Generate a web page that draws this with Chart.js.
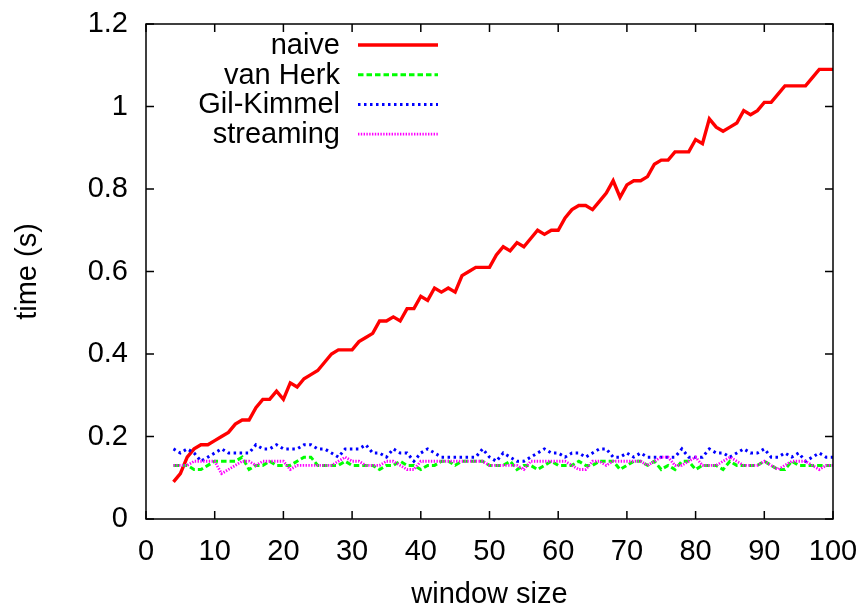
<!DOCTYPE html>
<html>
<head>
<meta charset="utf-8">
<script src="https://cdn.jsdelivr.net/npm/chart.js@4.4.1/dist/chart.umd.min.js"></script>
<style>
  html, body { margin: 0; padding: 0; background: #fff; }
  #wrap { width: 866px; height: 609px; }
</style>
</head>
<body>
<div id="wrap"><canvas id="chart" width="866" height="609"></canvas></div>
<script>
// window sizes on the x axis, timings in seconds per method
const windowSizes = [4, 5, 6, 7, 8, 9,
  10, 11, 12, 13, 14, 15, 16, 17, 18, 19,
  20, 21, 22, 23, 24, 25, 26, 27, 28, 29,
  30, 31, 32, 33, 34, 35, 36, 37, 38, 39,
  40, 41, 42, 43, 44, 45, 46, 47, 48, 49,
  50, 51, 52, 53, 54, 55, 56, 57, 58, 59,
  60, 61, 62, 63, 64, 65, 66, 67, 68, 69,
  70, 71, 72, 73, 74, 75, 76, 77, 78, 79,
  80, 81, 82, 83, 84, 85, 86, 87, 88, 89,
  90, 91, 92, 93, 94, 95, 96, 97, 98, 99,
  100];

const naive = [0.09, 0.11, 0.15, 0.17, 0.18, 0.18,
  0.19, 0.20, 0.21, 0.23, 0.24, 0.24, 0.27, 0.29, 0.29, 0.31,
  0.29, 0.33, 0.32, 0.34, 0.35, 0.36, 0.38, 0.40, 0.41, 0.41,
  0.41, 0.43, 0.44, 0.45, 0.48, 0.48, 0.49, 0.48, 0.51, 0.51,
  0.54, 0.53, 0.56, 0.55, 0.56, 0.55, 0.59, 0.60, 0.61, 0.61,
  0.61, 0.64, 0.66, 0.65, 0.67, 0.66, 0.68, 0.70, 0.69, 0.70,
  0.70, 0.73, 0.75, 0.76, 0.76, 0.75, 0.77, 0.79, 0.82, 0.78,
  0.81, 0.82, 0.82, 0.83, 0.86, 0.87, 0.87, 0.89, 0.89, 0.89,
  0.92, 0.91, 0.97, 0.95, 0.94, 0.95, 0.96, 0.99, 0.98, 0.99,
  1.01, 1.01, 1.03, 1.05, 1.05, 1.05, 1.05, 1.07, 1.09, 1.09,
  1.09];

const vanHerk = [0.13, 0.13, 0.13, 0.12, 0.12, 0.13,
  0.14, 0.14, 0.14, 0.14, 0.15, 0.12, 0.13, 0.13, 0.14, 0.13,
  0.13, 0.13, 0.14, 0.15, 0.15, 0.13, 0.13, 0.13, 0.13, 0.14,
  0.13, 0.13, 0.13, 0.13, 0.12, 0.13, 0.13, 0.14, 0.13, 0.13,
  0.12, 0.13, 0.13, 0.14, 0.14, 0.13, 0.14, 0.14, 0.14, 0.14,
  0.13, 0.13, 0.13, 0.14, 0.12, 0.13, 0.13, 0.12, 0.13, 0.14,
  0.13, 0.13, 0.13, 0.14, 0.13, 0.13, 0.14, 0.14, 0.14, 0.12,
  0.13, 0.14, 0.14, 0.13, 0.14, 0.12, 0.13, 0.12, 0.14, 0.14,
  0.12, 0.13, 0.13, 0.13, 0.12, 0.14, 0.13, 0.13, 0.13, 0.13,
  0.14, 0.13, 0.12, 0.12, 0.14, 0.13, 0.13, 0.13, 0.13, 0.13,
  0.13];

const gilKimmel = [0.17, 0.16, 0.17, 0.16, 0.14, 0.15,
  0.16, 0.17, 0.16, 0.16, 0.16, 0.16, 0.18, 0.17, 0.17, 0.18,
  0.17, 0.17, 0.17, 0.18, 0.18, 0.17, 0.17, 0.16, 0.15, 0.17,
  0.17, 0.17, 0.18, 0.16, 0.16, 0.15, 0.17, 0.16, 0.16, 0.14,
  0.16, 0.17, 0.16, 0.15, 0.15, 0.15, 0.15, 0.15, 0.15, 0.17,
  0.15, 0.14, 0.16, 0.15, 0.14, 0.14, 0.15, 0.16, 0.17, 0.16,
  0.16, 0.15, 0.16, 0.16, 0.15, 0.16, 0.17, 0.17, 0.15, 0.15,
  0.16, 0.15, 0.16, 0.15, 0.15, 0.15, 0.15, 0.15, 0.17, 0.15,
  0.15, 0.15, 0.17, 0.16, 0.16, 0.15, 0.16, 0.17, 0.16, 0.16,
  0.17, 0.15, 0.15, 0.16, 0.15, 0.16, 0.14, 0.15, 0.16, 0.15,
  0.15];

const streaming = [0.13, 0.13, 0.13, 0.14, 0.14, 0.14,
  0.14, 0.11, 0.12, 0.13, 0.14, 0.14, 0.13, 0.14, 0.14, 0.14,
  0.14, 0.12, 0.13, 0.13, 0.13, 0.13, 0.13, 0.13, 0.14, 0.15,
  0.14, 0.14, 0.13, 0.13, 0.13, 0.14, 0.14, 0.13, 0.12, 0.12,
  0.14, 0.14, 0.14, 0.14, 0.14, 0.14, 0.14, 0.14, 0.14, 0.14,
  0.13, 0.13, 0.13, 0.13, 0.13, 0.12, 0.14, 0.14, 0.14, 0.14,
  0.14, 0.14, 0.13, 0.12, 0.12, 0.14, 0.14, 0.13, 0.14, 0.14,
  0.14, 0.14, 0.14, 0.13, 0.14, 0.15, 0.15, 0.13, 0.13, 0.14,
  0.15, 0.13, 0.13, 0.13, 0.14, 0.15, 0.14, 0.13, 0.13, 0.13,
  0.14, 0.13, 0.12, 0.13, 0.14, 0.14, 0.14, 0.13, 0.12, 0.13,
  0.13];

const xTicks = [0, 10, 20, 30, 40, 50, 60, 70, 80, 90, 100];
const yTicks = [0, 0.2, 0.4, 0.6, 0.8, 1, 1.2];

const FONT = '"Liberation Sans", Arial, Helvetica, sans-serif';
const SIZE = 29;
const pts = ys => windowSizes.map((x, i) => ({ x, y: ys[i] }));

// gnuplot look: closed border, inward ticks mirrored on all four sides,
// key in the top-left corner with the label before the sample line
const gnuplotFrame = {
  id: 'gnuplotFrame',
  afterDraw(chart) {
    const { ctx, chartArea: a, scales } = chart;
    ctx.save();
    ctx.strokeStyle = '#000';
    ctx.lineWidth = 1.5;
    ctx.strokeRect(a.left, a.top, a.right - a.left, a.bottom - a.top);
    const len = 8;
    ctx.beginPath();
    xTicks.forEach(v => {
      const px = scales.x.getPixelForValue(v);
      ctx.moveTo(px, a.bottom); ctx.lineTo(px, a.bottom - len);
      ctx.moveTo(px, a.top); ctx.lineTo(px, a.top + len);
    });
    yTicks.forEach(v => {
      const py = scales.y.getPixelForValue(v);
      ctx.moveTo(a.left, py); ctx.lineTo(a.left + len, py);
      ctx.moveTo(a.right, py); ctx.lineTo(a.right - len, py);
    });
    ctx.stroke();

    ctx.font = SIZE + 'px ' + FONT;
    ctx.textAlign = 'right';
    ctx.textBaseline = 'middle';
    chart.data.datasets.forEach((ds, i) => {
      const y = 45 + i * 29.7;
      ctx.fillStyle = '#000';
      ctx.fillText(ds.label, 340, y + 1);
      ctx.strokeStyle = ds.borderColor;
      ctx.lineWidth = ds.borderWidth;
      ctx.setLineDash(ds.borderDash || []);
      ctx.beginPath();
      ctx.moveTo(358, y);
      ctx.lineTo(438, y);
      ctx.stroke();
      ctx.setLineDash([]);
    });
    ctx.restore();
  }
};

// keep the plot box where the reference has it: drop the label overhang padding
const noOverhang = s => {
  s.paddingTop = 0; s.paddingBottom = 0; s.paddingLeft = 0; s.paddingRight = 0;
};

new Chart(document.getElementById('chart').getContext('2d'), {
  type: 'line',
  data: {
    datasets: [
      { label: 'naive', data: pts(naive), borderColor: '#ff0000', borderWidth: 3.4, order: 3 },
      { label: 'van Herk', data: pts(vanHerk), borderColor: '#00ff00', borderWidth: 3, borderDash: [5.5, 3], order: 2 },
      { label: 'Gil-Kimmel', data: pts(gilKimmel), borderColor: '#0000ff', borderWidth: 3, borderDash: [2.5, 3.5], order: 1 },
      { label: 'streaming', data: pts(streaming), borderColor: '#ff00ff', borderWidth: 2.8, borderDash: [1.4, 1.4], order: 0 },
    ],
  },
  options: {
    responsive: false,
    animation: false,
    parsing: false,
    elements: { point: { radius: 0 }, line: { tension: 0, fill: false } },
    layout: { padding: { top: 24, right: 33, left: 0, bottom: 0 } },
    plugins: { legend: { display: false }, tooltip: { enabled: false } },
    scales: {
      x: {
        type: 'linear', min: 0, max: 100,
        afterBuildTicks: s => { s.ticks = xTicks.map(value => ({ value })); },
        afterFit: s => { s.height = 90; noOverhang(s); },
        grid: { display: false, drawTicks: false },
        border: { display: false },
        ticks: { color: '#000', font: { family: FONT, size: SIZE }, padding: 16, maxRotation: 0 },
        title: { display: true, text: 'window size', color: '#000', font: { family: FONT, size: SIZE }, padding: { top: 0, bottom: -3 } },
      },
      y: {
        type: 'linear', min: 0, max: 1.2,
        afterBuildTicks: s => { s.ticks = yTicks.map(value => ({ value })); },
        afterFit: s => { s.width = 146; noOverhang(s); },
        grid: { display: false, drawTicks: false },
        border: { display: false },
        ticks: { color: '#000', font: { family: FONT, size: SIZE }, padding: 18, callback: v => String(v) },
        title: { display: true, text: 'time (s)', color: '#000', font: { family: FONT, size: SIZE }, padding: { top: 11, bottom: 0 } },
      },
    },
  },
  plugins: [gnuplotFrame],
});
</script>
</body>
</html>
